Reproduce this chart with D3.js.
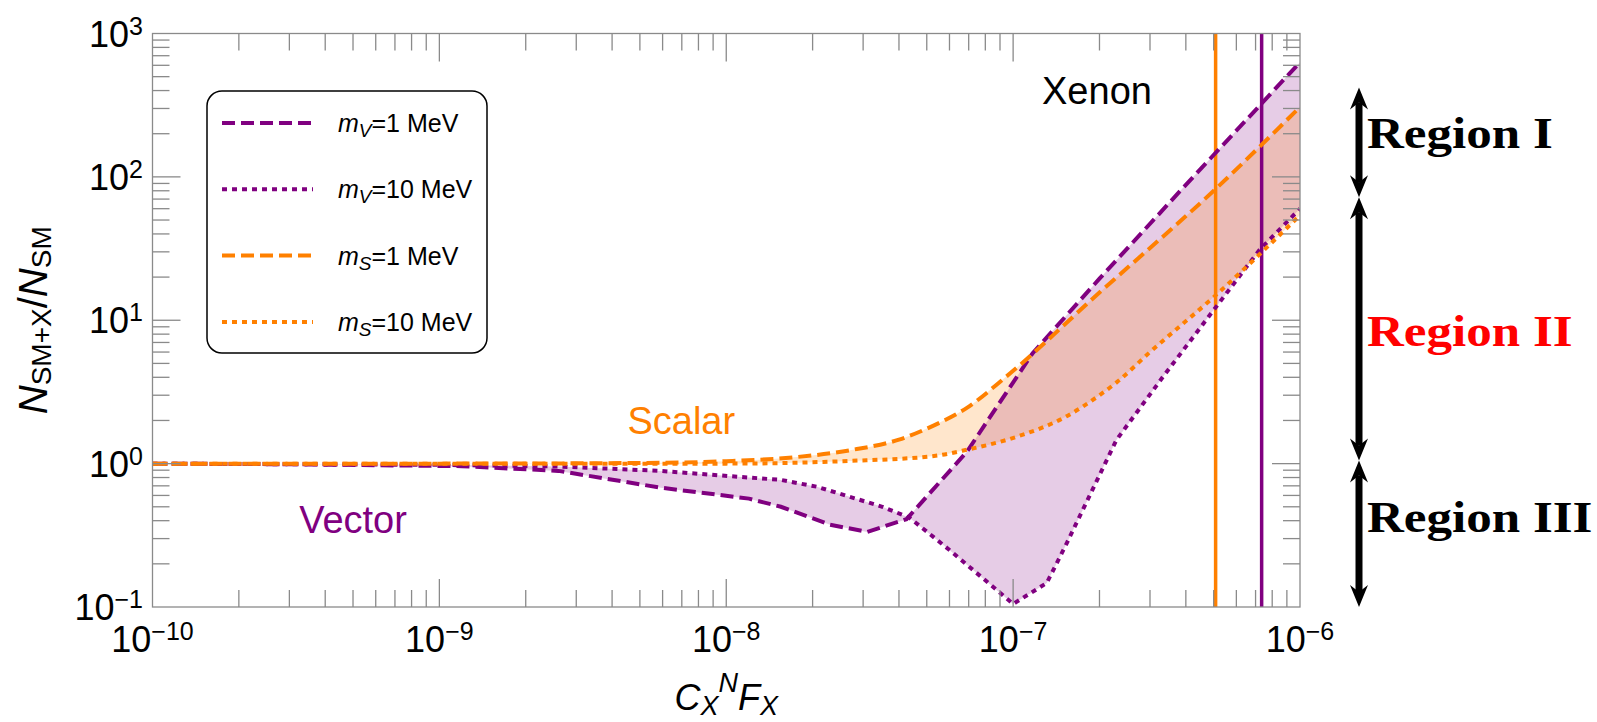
<!DOCTYPE html>
<meta charset="utf-8">
<script src="https://d3js.org/d3.v7.min.js"></script>
<style>
  body { margin: 0; background: #fff; }
  text { font-family: "Liberation Sans", Arial, sans-serif; }
</style>
<svg id="chart"></svg>
<script>

// ---- data: C_X^N F_X  vs  N_SM+X / N_SM ----
let vector_1mev_x  = [1e-10, 3e-10, 1.2e-9, 2.6e-9, 5.9e-9, 1.2e-8, 1.55e-8, 2.3e-8, 3.1e-8, 4.25e-8, 6.9e-8, 1.17e-7, 2e-7, 4e-7, 7.35e-7, 1e-6];
let vector_1mev_y  = [1.0, 0.99, 0.96, 0.89, 0.68, 0.57, 0.50, 0.375, 0.334, 0.41, 1.21, 5.9, 19.5, 88, 325, 630];

let vector_10mev_x = [1e-10, 1e-9, 2.6e-9, 5.9e-9, 1.2e-8, 1.55e-8, 2.07e-8, 3.5e-8, 4.35e-8, 6e-8, 1e-7, 1.31e-7, 1.54e-7, 2.29e-7, 3.32e-7, 5.1e-7, 7.23e-7, 1e-6];
let vector_10mev_y = [1.0, 0.98, 0.955, 0.89, 0.80, 0.77, 0.69, 0.50, 0.42, 0.25, 0.105, 0.147, 0.28, 1.46, 4.0, 12.4, 31, 60];

let scalar_1mev_x  = [1e-10, 1e-9, 5e-9, 1e-8, 1.57e-8, 2.7e-8, 4e-8, 5.3e-8, 6.9e-8, 9.4e-8, 2e-7, 5.1e-7, 1e-6];
let scalar_1mev_y  = [1.0, 1.0, 1.01, 1.04, 1.09, 1.24, 1.47, 1.85, 2.45, 4.0, 15.6, 83, 307];

let scalar_10mev_x = [1e-10, 1e-9, 1e-8, 2.7e-8, 5.3e-8, 6.9e-8, 1.03e-7, 1.53e-7, 2e-7, 2.3e-7, 3e-7, 5e-7, 1e-6];
let scalar_10mev_y = [1.0, 1.0, 1.0, 1.045, 1.13, 1.25, 1.54, 2.13, 3.0, 3.7, 6.0, 14.5, 54];

// Xenon bounds (vertical lines): scalar, vector
let xenon_limits = [5.08e-7, 7.35e-7];

let x_exponents = [-10, -9, -8, -7, -6];
let y_exponents = [-1, 0, 1, 2, 3];

let legend_masses = ["1", "10", "1", "10"];
let legend_kinds  = ["V", "V", "S", "S"];

let region_names  = ["Region I", "Region II", "Region III"];
let region_colors = ["black", "red", "black"];
let region_ends   = [420, 72, 1.05, 0.1];
let region_label_at = [200, 8.3, 0.42];

let purple = "#800080", orange = "#ff8000";

// ---- svg + scales ----
let chart = d3.select("#chart").attr("width", 1597).attr("height", 722);

let x = d3.scaleLog().domain([1e-10, 1e-6]).range([152.5, 1300]);
let y = d3.scaleLog().domain([0.1, 1000]).range([607, 33.5]);

chart.append("clipPath").attr("id", "plotclip")
  .append("rect")
    .attr("x", x.range()[0]).attr("y", y.range()[1])
    .attr("width", x.range()[1] - x.range()[0])
    .attr("height", y.range()[0] - y.range()[1]);

let pts = (xs, ys) => xs.map((v, i) => [x(v), y(ys[i])]);

let v1 = pts(vector_1mev_x, vector_1mev_y),
    v10 = pts(vector_10mev_x, vector_10mev_y),
    s1 = pts(scalar_1mev_x, scalar_1mev_y),
    s10 = pts(scalar_10mev_x, scalar_10mev_y);

let linearLine = d3.line(),
    smoothLine = d3.line().curve(d3.curveMonotoneX);

// band between two curves: one forward, the other back
function band(a, genA, b, genB) {
  return genA(a) + "L" + genB(b.slice().reverse()).slice(1) + "Z";
}

let plot = chart.append("g").attr("clip-path", "url(#plotclip)");

plot.append("path").attr("d", band(v1, linearLine, v10, linearLine))
  .attr("fill", purple).attr("fill-opacity", 0.2);
plot.append("path").attr("d", band(s1, smoothLine, s10, smoothLine))
  .attr("fill", orange).attr("fill-opacity", 0.2);

// xenon vertical lines
plot.selectAll(".xenon")
  .data(xenon_limits)
  .enter().append("line")
    .attr("x1", d => x(d)).attr("x2", d => x(d))
    .attr("y1", y.range()[0]).attr("y2", y.range()[1])
    .attr("stroke", (d, i) => i == 0 ? orange : purple)
    .attr("stroke-width", 3.5);

// curves
let curves = [
  {p: v1,  c: purple, dash: "13,6", gen: linearLine},
  {p: v10, c: purple, dash: "5,5",  gen: linearLine},
  {p: s1,  c: orange, dash: "13,6", gen: smoothLine},
  {p: s10, c: orange, dash: "5,5",  gen: smoothLine}
];
curves.forEach(function(cv) {
  plot.append("path")
    .attr("d", cv.gen(cv.p))
    .attr("fill", "none")
    .attr("stroke", cv.c)
    .attr("stroke-width", 4)
    .attr("stroke-dasharray", cv.dash);
});

// ---- frame and ticks ----
let frameColor = "#8a8a8a";
chart.append("rect")
  .attr("x", x.range()[0]).attr("y", y.range()[1])
  .attr("width", x.range()[1] - x.range()[0])
  .attr("height", y.range()[0] - y.range()[1])
  .attr("fill", "none").attr("stroke", frameColor).attr("stroke-width", 1.3);

function logTicks(lo, hi) {
  let out = [];
  for (let k = lo; k < hi; k++)
    for (let m = 1; m <= 9; m++)
      if (!(m == 1 && k == lo)) out.push({v: m * Math.pow(10, k), major: m == 1});
  return out;
}

let ticks = chart.append("g").attr("stroke", frameColor).attr("stroke-width", 1.3);
logTicks(-10, -6).forEach(function(t) {
  let len = t.major ? 28 : 17, px = x(t.v);
  ticks.append("line").attr("x1", px).attr("x2", px).attr("y1", y.range()[0]).attr("y2", y.range()[0] - len);
  ticks.append("line").attr("x1", px).attr("x2", px).attr("y1", y.range()[1]).attr("y2", y.range()[1] + len);
});
logTicks(-1, 3).forEach(function(t) {
  let len = t.major ? 28 : 17, py = y(t.v);
  ticks.append("line").attr("y1", py).attr("y2", py).attr("x1", x.range()[0]).attr("x2", x.range()[0] + len);
  ticks.append("line").attr("y1", py).attr("y2", py).attr("x1", x.range()[1]).attr("x2", x.range()[1] - len);
});

function powerLabel(sel, e) {
  sel.append("tspan").text("10");
  sel.append("tspan").attr("dy", -12).attr("font-size", 25)
    .text(e < 0 ? "\u2212" + (-e) : e);
}

x_exponents.forEach(function(e) {
  let t = chart.append("text")
    .attr("x", x(Math.pow(10, e))).attr("y", 652)
    .attr("text-anchor", "middle").attr("font-size", 36);
  powerLabel(t, e);
});
y_exponents.forEach(function(e) {
  let t = chart.append("text")
    .attr("x", 143).attr("y", y(Math.pow(10, e)) + 13)
    .attr("text-anchor", "end").attr("font-size", 36);
  powerLabel(t, e);
});

// axis titles
let xt = chart.append("text")
  .attr("x", (x.range()[0] + x.range()[1]) / 2).attr("y", 710)
  .attr("text-anchor", "middle").attr("font-size", 36);
xt.append("tspan").attr("font-style", "italic").text("C");
xt.append("tspan").attr("font-style", "italic").attr("font-size", 27).attr("dy", 5).text("X");
xt.append("tspan").attr("font-style", "italic").attr("font-size", 27).attr("dy", -23).text("N");
xt.append("tspan").attr("font-style", "italic").attr("dy", 18).text("F");
xt.append("tspan").attr("font-style", "italic").attr("font-size", 27).attr("dy", 5).text("X");

let yt = chart.append("text")
  .attr("transform", "translate(47," + ((y.range()[0] + y.range()[1]) / 2) + ") rotate(-90)")
  .attr("text-anchor", "middle").attr("font-size", 40);
yt.append("tspan").attr("font-style", "italic").text("N");
yt.append("tspan").attr("font-size", 28).attr("dy", 4).text("SM+X");
yt.append("tspan").attr("dy", -4).text("/");
yt.append("tspan").attr("font-style", "italic").text("N");
yt.append("tspan").attr("font-size", 28).attr("dy", 4).text("SM");

// annotations
chart.append("text").attr("x", x(1.96e-7)).attr("y", y(322))
  .attr("text-anchor", "middle").attr("font-size", 38).text("Xenon");
chart.append("text").attr("x", x(6.97e-9)).attr("y", y(1.61))
  .attr("text-anchor", "middle").attr("font-size", 38).attr("fill", orange).text("Scalar");
chart.append("text").attr("x", x(5.0e-10)).attr("y", y(0.329))
  .attr("text-anchor", "middle").attr("font-size", 38).attr("fill", purple).text("Vector");

// ---- legend ----
let legend = chart.append("g");
legend.append("rect")
  .attr("x", 207).attr("y", 91).attr("width", 280).attr("height", 262)
  .attr("rx", 15).attr("ry", 15)
  .attr("fill", "white").attr("stroke", "black").attr("stroke-width", 1.5);

legend_masses.forEach(function(m, i) {
  let ly = 123 + i * 66.3, cv = curves[i];
  legend.append("line")
    .attr("x1", 222).attr("x2", 313).attr("y1", ly).attr("y2", ly)
    .attr("stroke", cv.c).attr("stroke-width", 4).attr("stroke-dasharray", cv.dash);
  let t = legend.append("text").attr("x", 338).attr("y", ly + 9).attr("font-size", 25);
  t.append("tspan").attr("font-style", "italic").text("m");
  t.append("tspan").attr("font-style", "italic").attr("font-size", 19).attr("dy", 5).text(legend_kinds[i]);
  t.append("tspan").attr("dy", -5).text("=" + m + " MeV");
});

// ---- region arrows on the right ----
let ax = 1359;
function arrowHead(g, tipY, dir) {
  // dir = -1 points up, +1 points down
  let s = dir;
  g.append("path")
    .attr("d", "M" + ax + "," + tipY +
      "L" + (ax + 9) + "," + (tipY - s * 22) +
      "L" + ax + "," + (tipY - s * 15) +
      "L" + (ax - 9) + "," + (tipY - s * 22) + "Z")
    .attr("fill", "black");
}
region_names.forEach(function(name, i) {
  let top = y(region_ends[i]), bot = y(region_ends[i + 1]);
  let g = chart.append("g");
  g.append("line").attr("x1", ax).attr("x2", ax)
    .attr("y1", top + 15).attr("y2", bot - 15)
    .attr("stroke", "black").attr("stroke-width", 7);
  arrowHead(g, top, -1);
  arrowHead(g, bot, 1);
  let t = chart.append("text")
    .attr("x", 1367).attr("y", y(region_label_at[i])).attr("dy", "0.33em")
    .style("font-family", "'Liberation Serif', 'DejaVu Serif', serif")
    .attr("font-weight", "bold").attr("font-size", 44)
    .attr("fill", region_colors[i]).text(name);
  let w = t.node().getComputedTextLength();
  t.attr("textLength", w * 1.16).attr("lengthAdjust", "spacingAndGlyphs");
});

</script>
